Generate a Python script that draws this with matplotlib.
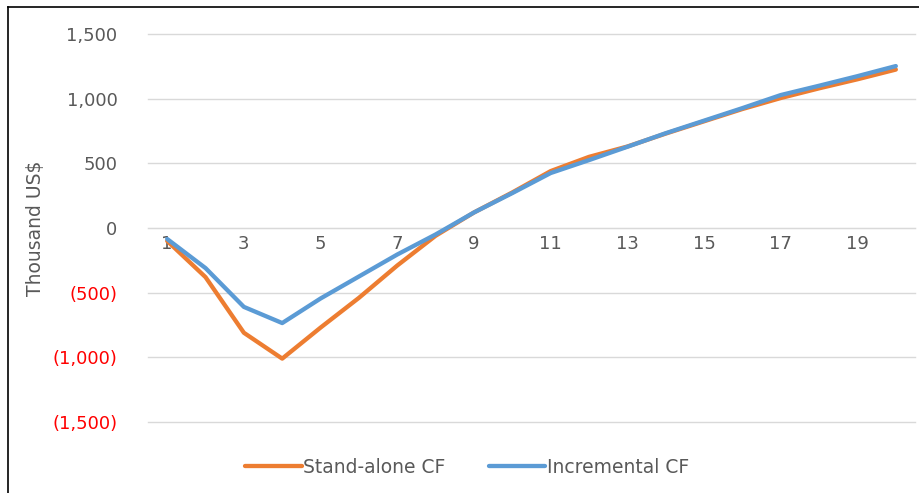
import numpy as np
import matplotlib
matplotlib.use('AGG')
import matplotlib.pyplot as plt
from matplotlib.ticker import FuncFormatter, FixedLocator
from matplotlib.lines import Line2D

years = list(range(1, 21))
standAlone = [-100, -380, -810, -1010, -770, -540, -290, -60, 120, 275, 440, 550,
              630, 730, 825, 920, 1005, 1080, 1150, 1225]
incremental = [-85, -310, -610, -735, -545, -375, -205, -50, 120, 270, 425, 525,
               628, 733, 830, 927, 1028, 1100, 1174, 1252]
seriesNames = ["Stand-alone CF", "Incremental CF"]
yTicks = [-1500, -1000, -500, 0, 500, 1000, 1500]
xTickLabels = [1, 3, 5, 7, 9, 11, 13, 15, 17, 19]

ORANGE = '#ED7D31'
BLUE = '#5B9BD5'
GRAY = '#595959'


def AccountingFormat(v, pos):
    if v < 0:
        return "({:,.0f})".format(-v)
    return "{:,.0f}".format(v)


def main():
    fig = plt.figure(figsize=(9.2, 4.93), dpi=100)
    ax = fig.add_axes([148 / 920, 71 / 493, 767 / 920, 388 / 493])

    ax.plot(years, standAlone, color=ORANGE, linewidth=3.1, label=seriesNames[0],
            solid_joinstyle='round', solid_capstyle='round')
    ax.plot(years, incremental, color=BLUE, linewidth=3.1, label=seriesNames[1],
            solid_joinstyle='round', solid_capstyle='round')

    ax.set_xlim(0.5, 20.5)
    ax.set_ylim(-1500, 1500)
    ax.yaxis.set_major_locator(FixedLocator(yTicks))
    ax.yaxis.set_major_formatter(FuncFormatter(AccountingFormat))
    ax.xaxis.set_major_locator(FixedLocator(xTickLabels))

    ax.grid(axis='y', color='#D9D9D9', linewidth=1)
    for gl in ax.get_ygridlines():
        gl.set_clip_on(False)
    ax.set_axisbelow(True)
    for s in ['top', 'right', 'left']:
        ax.spines[s].set_visible(False)
    ax.spines['bottom'].set_position(('data', 0))
    ax.spines['bottom'].set_color('#D9D9D9')
    ax.spines['bottom'].set_zorder(0)

    ax.tick_params(axis='both', length=0, labelsize=13, labelcolor=GRAY)
    ax.tick_params(axis='y', pad=22)
    ax.tick_params(axis='x', pad=5)

    for lbl, val in zip(ax.get_yticklabels(), yTicks):
        if val < 0:
            lbl.set_color('#FF0000')

    ax.set_ylabel("Thousand US$", fontsize=13.5, color=GRAY, labelpad=5)

    fig.legend(loc='center', bbox_to_anchor=(0.508, 0.052), ncol=2, frameon=False,
               fontsize=13.5, handlelength=3.0, handletextpad=0.1, columnspacing=2.3,
               labelcolor=GRAY)

    # chart border is cropped: only top and left edges show
    fig.add_artist(Line2D([8 / 920, 1], [1 - 7 / 493, 1 - 7 / 493], transform=fig.transFigure,
                          color='black', linewidth=1.2))
    fig.add_artist(Line2D([8 / 920, 8 / 920], [0, 1 - 7 / 493], transform=fig.transFigure,
                          color='black', linewidth=1.2))

    fig.savefig("out.png", dpi=100)


if __name__ == "__main__":
    main()
